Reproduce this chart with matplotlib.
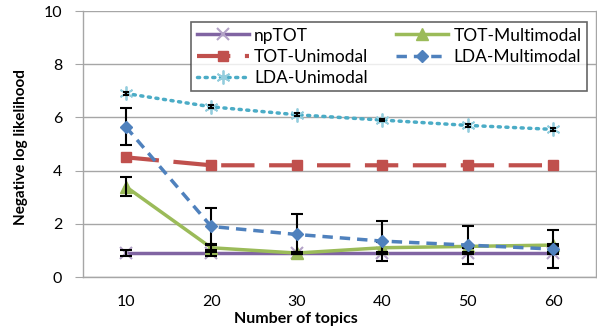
import matplotlib
matplotlib.use("Agg")
import matplotlib.pyplot as plt
import numpy as np

topics = ["10", "20", "30", "40", "50", "60"]
np_tot = [0.9, 0.9, 0.9, 0.9, 0.9, 0.9]
np_tot_err = [0.12, 0.12, 0.05, 0.05, 0.05, 0.05]
tot_uni = [4.5, 4.2, 4.2, 4.2, 4.2, 4.2]
lda_uni = [6.9, 6.4, 6.1, 5.9, 5.7, 5.55]
lda_uni_err = [0.05, 0.05, 0.05, 0.05, 0.05, 0.05]
tot_multi = [3.4, 1.1, 0.9, 1.1, 1.15, 1.2]
tot_multi_err = [0.35, 0.15, 0.05, 0.2, 0.05, 0.05]
lda_multi = [5.65, 1.9, 1.6, 1.35, 1.2, 1.05]
lda_multi_err = [0.7, 0.7, 0.75, 0.75, 0.7, 0.7]

plt.rcParams['font.family'] = ['Lato', 'DejaVu Sans']

fig = plt.figure(figsize=(5.97, 3.30), dpi=100)
ax = fig.add_axes([0.139, 0.1606, 0.859, 0.806])
x = np.arange(len(topics))

ax.errorbar(x, lda_multi, yerr=lda_multi_err, fmt='none', ecolor='black',
            elinewidth=1.5, capsize=4, capthick=1.5, zorder=5)
ax.errorbar(x, tot_multi, yerr=tot_multi_err, fmt='none', ecolor='black',
            elinewidth=1.5, capsize=4, capthick=1.5, zorder=5)
ax.errorbar(x, np_tot, yerr=np_tot_err, fmt='none', ecolor='black',
            elinewidth=1.5, capsize=4, capthick=1.5, zorder=5)
ax.errorbar(x, lda_uni, yerr=lda_uni_err, fmt='none', ecolor='black',
            elinewidth=1.5, capsize=2.5, capthick=1.5, zorder=5)

l1, = ax.plot(x, np_tot, color='#8064A2', lw=2.5, marker='x', ms=8,
              mec='#B3A2C7', mew=1.5, label='npTOT', zorder=3)
l2, = ax.plot(x, tot_uni, color='#C0504D', lw=3, ls=(0, (8, 3.5)), marker='s',
              ms=7.5, mfc='#C0504D', mec='#C0504D', label='TOT-Unimodal', zorder=3)
l3, = ax.plot(x, lda_uni, color='#4BACC6', lw=2.5, ls=(0, (0.6, 1.6)),
              dash_capstyle='round', marker=(6, 2, 0), ms=10, mec='#93CDDD',
              mew=1.3, label='LDA-Unimodal', zorder=4)
l4, = ax.plot(x, tot_multi, color='#9BBB59', lw=2.5, marker='^', ms=8,
              mfc='#9BBB59', mec='#9BBB59', label='TOT-Multimodal', zorder=4)
l5, = ax.plot(x, lda_multi, color='#4F81BD', lw=2.5, ls=(0, (3, 2)), marker='D',
              ms=6.5, mfc='#4F81BD', mec='#4F81BD', label='LDA-Multimodal', zorder=6)

ax.set_xlim(-0.5, len(topics) - 0.5)
ax.set_ylim(0, 10)
ax.set_yticks([0, 2, 4, 6, 8, 10])
ax.set_xticks(x)
ax.set_xticklabels(topics)
ax.yaxis.grid(True, color='#A6A6A6', lw=1)
ax.set_axisbelow(True)
for s in ['left', 'bottom', 'right', 'top']:
    ax.spines[s].set_color('#A6A6A6')
    ax.spines[s].set_linewidth(1)
ax.spines['top'].set_visible(False)
ax.tick_params(axis='y', length=6, color='#A6A6A6', pad=9, labelsize=11.5)
ax.tick_params(axis='x', length=0, pad=13, labelsize=11.5)

fig.text(0.035, 0.555, 'Negative log likelihood', rotation=90, ha='center',
         va='center', fontsize=11, fontweight='bold')
fig.text(0.496, 0.033, 'Number of topics', ha='center', va='center',
         fontsize=11.5, fontweight='bold')

leg = ax.legend(handles=[l1, l2, l3, l4, l5], ncol=2, loc='upper right',
                bbox_to_anchor=(0.999, 0.99), frameon=True, fancybox=False,
                edgecolor='#404040', fontsize=12.5, handlelength=3.0,
                columnspacing=1.6, borderpad=0.3, labelspacing=0.3,
                handletextpad=0.3)
leg.get_frame().set_linewidth(1.2)

fig.savefig('out.png', dpi=100)
